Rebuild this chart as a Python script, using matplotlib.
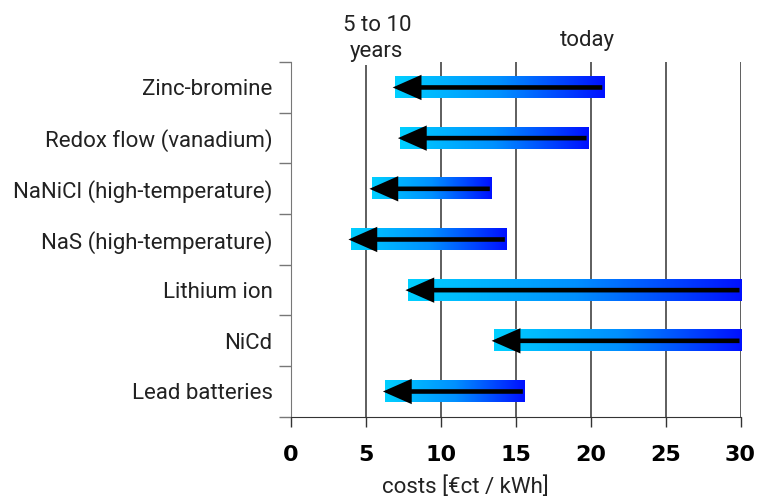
import matplotlib.pyplot as plt
import numpy as np
from matplotlib.colors import LinearSegmentedColormap

plt.rcParams['font.family'] = ['Roboto', 'Liberation Sans', 'DejaVu Sans']

# costs in euro cent per kWh
technologies = ["Zinc-bromine", "Redox flow (vanadium)", "NaNiCl (high-temperature)",
                "NaS (high-temperature)", "Lithium ion", "NiCd", "Lead batteries"]
cost_today = [20.9, 19.85, 13.4, 14.4, 30.05, 30.05, 15.6]
cost_future = [6.95, 7.3, 5.4, 4.0, 7.8, 13.55, 6.3]
xticks = [0, 5, 10, 15, 20, 25, 30]

cmap = LinearSegmentedColormap.from_list("bar", ["#00d0ff", "#0090ff", "#0010ff"])
grad = np.linspace(0, 1, 256).reshape(1, -1)

fig = plt.figure(figsize=(7.65, 5.01), dpi=100)
ax = fig.add_axes([0.380, 0.168, 0.589, 0.708])

for x in xticks[1:]:
    ax.axvline(x, color="#333333", lw=1.1, zorder=1)

for i, (today, future) in enumerate(zip(cost_today, cost_future)):
    ax.imshow(grad, cmap=cmap, aspect="auto", zorder=2,
              extent=[future, today, i + 0.21, i - 0.21])
    ax.annotate("", xy=(future - 0.15, i), xytext=(today - 0.12, i),
                arrowprops=dict(arrowstyle="-|>,head_length=0.75,head_width=0.33",
                                lw=3.3, color="black", shrinkA=0, shrinkB=0,
                                mutation_scale=20, capstyle="butt",
                                joinstyle="miter"), zorder=3)

ax.set_xlim(0, 30.05)
ax.set_ylim(len(technologies) - 0.5, -0.5)

ax.set_xticks(xticks)
ax.set_xticklabels([str(t) for t in xticks], family="DejaVu Sans",
                   fontweight="heavy", fontsize=16)
ax.tick_params(axis="x", length=7, width=1, color="#333333", pad=13)

ax.set_yticks(range(len(technologies)))
ax.set_yticklabels(technologies, fontsize=16, color="#222222")
ax.set_yticks(np.arange(-0.5, len(technologies)), minor=True)
ax.tick_params(axis="y", which="major", length=0, pad=13)
ax.tick_params(axis="y", which="minor", length=9, width=1, color="#777777")

for s in ["top", "right"]:
    ax.spines[s].set_visible(False)
ax.spines["left"].set_color("#777777")
ax.spines["bottom"].set_color("#333333")

ax.text(5.75, -0.5, "5 to 10\nyears", fontsize=16, color="#222222",
        ha="center", va="bottom", linespacing=1.35, zorder=4,
        bbox=dict(facecolor="white", edgecolor="none", pad=2))
ax.text(19.8, -0.72, "today", fontsize=16, color="#222222", ha="center", va="bottom")
fig.text(465 / 765, 1 - 487 / 501, "costs [€ct / kWh]", fontsize=16,
         color="#222222", ha="center", va="center")

fig.savefig("out.png", dpi=100)
